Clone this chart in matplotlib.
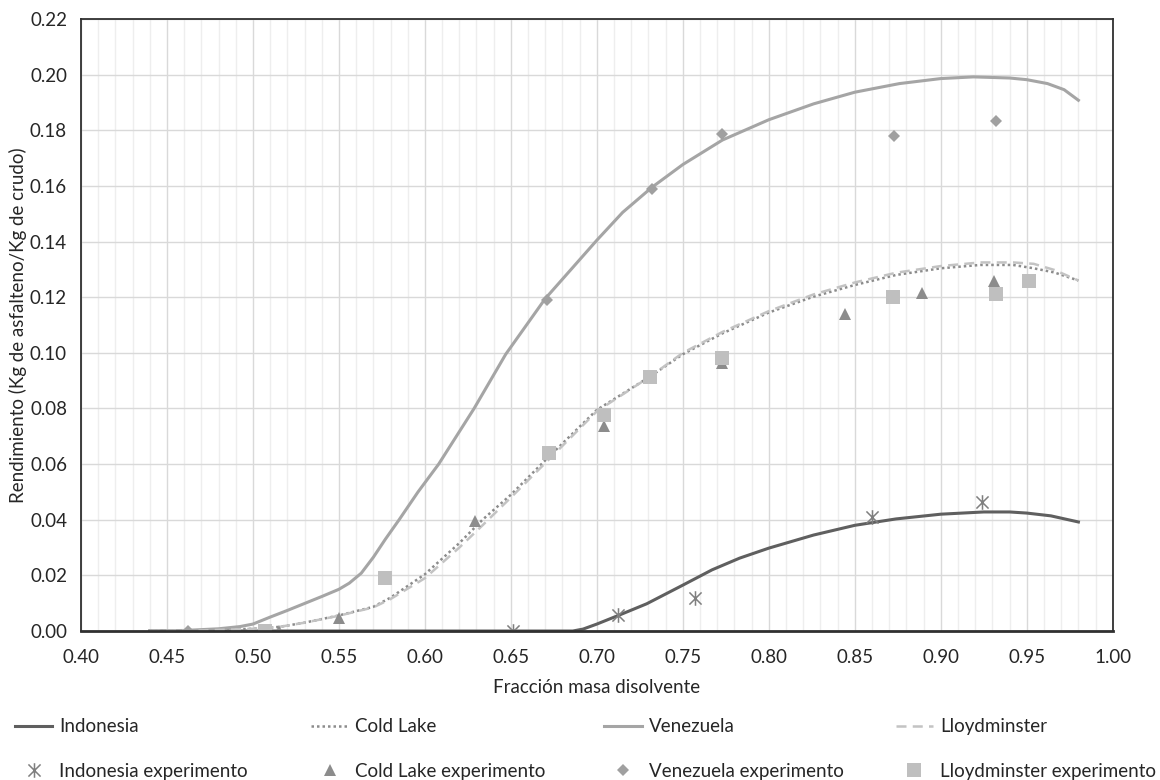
import numpy as np
import matplotlib
matplotlib.use('Agg')
import matplotlib.pyplot as plt
from matplotlib.path import Path
from matplotlib.ticker import MultipleLocator, FormatStrFormatter

plt.rcParams['font.family'] = ['Lato', 'DejaVu Sans']

# curvas del modelo
x_indonesia = [0.44, 0.60, 0.686, 0.692, 0.70, 0.7125, 0.729, 0.75, 0.767, 0.783, 0.80, 0.826,
               0.85, 0.874, 0.90, 0.925, 0.94, 0.95, 0.964, 0.98]
y_indonesia = [0.0, 0.0, 0.0, 0.0007, 0.0025, 0.0056, 0.0098, 0.0165, 0.0220, 0.0262, 0.0298,
               0.0345, 0.0380, 0.0403, 0.042, 0.0428, 0.0428, 0.0424, 0.0414, 0.0392]

x_coldlake = [0.44, 0.47, 0.50, 0.5155, 0.53, 0.55, 0.57, 0.58, 0.60, 0.62, 0.6335, 0.65, 0.671,
              0.70, 0.731, 0.75, 0.773, 0.80, 0.826, 0.85, 0.874, 0.90, 0.923, 0.942, 0.954,
              0.966, 0.98]
y_coldlake = [0.0, 0.0002, 0.0008, 0.0015, 0.003, 0.0056, 0.0087, 0.012, 0.0204, 0.0316, 0.040,
              0.049, 0.062, 0.0795, 0.0915, 0.0995, 0.107, 0.1145, 0.1202, 0.1244, 0.128, 0.1304,
              0.1316, 0.1316, 0.1304, 0.1289, 0.126]

x_venezuela = [0.44, 0.46, 0.48, 0.4925, 0.50, 0.51, 0.52, 0.53, 0.54, 0.55, 0.556, 0.563, 0.57,
               0.577, 0.585, 0.596, 0.608, 0.6286, 0.647, 0.670, 0.70, 0.715, 0.732, 0.75, 0.773,
               0.80, 0.826, 0.85, 0.876, 0.90, 0.919, 0.94, 0.95, 0.962, 0.9717, 0.98]
y_venezuela = [0.0, 0.0002, 0.0008, 0.0016, 0.0025, 0.005, 0.0074, 0.0099, 0.0124, 0.015, 0.0172,
               0.0208, 0.0265, 0.033, 0.040, 0.050, 0.060, 0.080, 0.0995, 0.1195, 0.1405, 0.1505,
               0.1595, 0.1677, 0.1765, 0.1838, 0.1895, 0.1937, 0.1968, 0.1986, 0.1992, 0.1988,
               0.1982, 0.1968, 0.1946, 0.1908]

x_lloyd = [0.44, 0.47, 0.50, 0.5155, 0.53, 0.55, 0.57, 0.58, 0.60, 0.62, 0.6335, 0.65, 0.671,
           0.70, 0.731, 0.75, 0.773, 0.80, 0.826, 0.85, 0.874, 0.90, 0.923, 0.942, 0.954, 0.966,
           0.98]
y_lloyd = [0.0, 0.0002, 0.0008, 0.0015, 0.003, 0.0055, 0.0085, 0.0115, 0.019, 0.030, 0.038,
           0.048, 0.061, 0.079, 0.0915, 0.100, 0.1075, 0.115, 0.121, 0.1253, 0.1288, 0.1312,
           0.1325, 0.1325, 0.132, 0.1298, 0.126]

# puntos experimentales
xe_indonesia = [0.651, 0.7125, 0.757, 0.860, 0.924]
ye_indonesia = [0.0, 0.0056, 0.0119, 0.041, 0.0463]

xe_coldlake = [0.515, 0.550, 0.629, 0.704, 0.773, 0.844, 0.889, 0.931]
ye_coldlake = [0.0, 0.0047, 0.0395, 0.0737, 0.0963, 0.114, 0.1215, 0.126]

xe_venezuela = [0.462, 0.671, 0.732, 0.773, 0.873, 0.932]
ye_venezuela = [0.0, 0.119, 0.159, 0.1787, 0.178, 0.1835]

xe_lloyd = [0.507, 0.577, 0.672, 0.704, 0.731, 0.773, 0.872, 0.932, 0.951]
ye_lloyd = [0.0, 0.019, 0.064, 0.0776, 0.0913, 0.098, 0.120, 0.121, 0.126]

# marcador tipo asterisco de Excel (X con barra vertical)
star = Path([(-1, -1), (1, 1), (-1, 1), (1, -1), (0, -1.2), (0, 1.2)],
            [Path.MOVETO, Path.LINETO, Path.MOVETO, Path.LINETO, Path.MOVETO, Path.LINETO])

FS = 13.5
TXT = '#262626'

fig = plt.figure(figsize=(11.6, 7.8), dpi=100)
ax = fig.add_axes([0.0698, 0.191, 0.8895, 0.7846])

l1, = ax.plot(x_indonesia, y_indonesia, color='#5f5f5f', lw=2.2, label='Indonesia')
l2, = ax.plot(x_coldlake, y_coldlake, color='#8c8c8c', lw=1.8, ls=(0, (1, 1.2)), label='Cold Lake')
l3, = ax.plot(x_venezuela, y_venezuela, color='#a5a5a5', lw=2.2, label='Venezuela')
l4, = ax.plot(x_lloyd, y_lloyd, color='#c3c3c3', lw=1.8, ls=(0, (4, 2.5)), label='Lloydminster')

m1, = ax.plot(xe_indonesia, ye_indonesia, ls='none', marker=star, ms=10.5, mew=1.1,
              mec='#7f7f7f', mfc='none', label='Indonesia experimento')
m2, = ax.plot(xe_coldlake, ye_coldlake, ls='none', marker='^', ms=8.5, mew=0,
              mfc='#8c8c8c', label='Cold Lake experimento')
m3, = ax.plot(xe_venezuela, ye_venezuela, ls='none', marker='D', ms=6.5, mew=0,
              mfc='#a0a0a0', label='Venezuela experimento')
m4, = ax.plot(xe_lloyd, ye_lloyd, ls='none', marker='s', ms=9.5, mew=0,
              mfc='#bfbfbf', label='Lloydminster experimento')

ax.set_xlim(0.40, 1.00)
ax.set_ylim(0.0, 0.22)
ax.xaxis.set_major_locator(MultipleLocator(0.05))
ax.xaxis.set_minor_locator(MultipleLocator(0.01))
ax.yaxis.set_major_locator(MultipleLocator(0.02))
ax.xaxis.set_major_formatter(FormatStrFormatter('%.2f'))
ax.yaxis.set_major_formatter(FormatStrFormatter('%.2f'))
ax.grid(which='major', color='#d9d9d9', lw=1.0, zorder=0)
ax.grid(which='minor', axis='x', color='#eeeeee', lw=1.0, zorder=0)
ax.set_axisbelow(True)
ax.tick_params(which='both', length=0, labelsize=FS, labelcolor=TXT)
ax.tick_params(axis='x', pad=13)
ax.tick_params(axis='y', pad=10)
for s in ax.spines.values():
    s.set_color('#303030')
    s.set_linewidth(1.3)
ax.spines['bottom'].set_linewidth(2.0)

ax.set_xlabel('Fracción masa disolvente', fontsize=FS, color=TXT, labelpad=9)
ax.set_ylabel('Rendimiento (Kg de asfalteno/Kg de crudo)', fontsize=FS, color=TXT,
              labelpad=2)

# leyenda: 4 columnas equiespaciadas como en Excel
cols = [(l1, m1), (l2, m2), (l3, m3), (l4, m4)]
xcols = [0.0129, 0.268, 0.521, 0.772]
for (ln, mk), xc in zip(cols, xcols):
    fig.legend([ln, mk], [ln.get_label(), mk.get_label()], loc='upper left',
               bbox_to_anchor=(xc, 0.079), frameon=False, fontsize=FS,
               handlelength=2.0, handletextpad=0.37, labelspacing=1.45,
               borderpad=0, borderaxespad=0, labelcolor=TXT)

fig.savefig('out.png', dpi=100)
